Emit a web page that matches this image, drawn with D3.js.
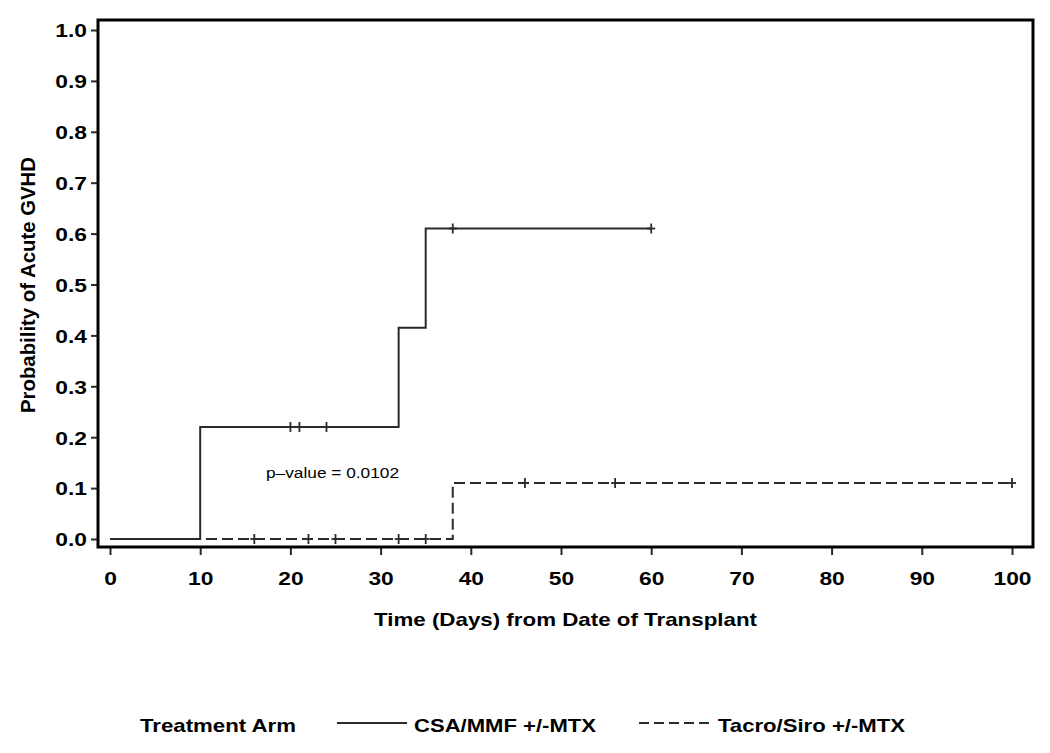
<!DOCTYPE html>
<html>
<head>
<meta charset="utf-8">
<script src="https://cdn.jsdelivr.net/npm/d3@7"></script>
<style>
  html, body { margin: 0; padding: 0; background: #fff; }
  svg { display: block; }
  text { font-family: "Liberation Sans", Arial, Helvetica, sans-serif; }
</style>
</head>
<body>
<svg id="chart" width="1050" height="753"></svg>
<script>
// ---- data ----
const xTicks = [0, 10, 20, 30, 40, 50, 60, 70, 80, 90, 100];
const yTicks = [0.0, 0.1, 0.2, 0.3, 0.4, 0.5, 0.6, 0.7, 0.8, 0.9, 1.0];
const seriesNames = ["CSA/MMF +/-MTX", "Tacro/Siro +/-MTX"];
const csaTimes = [0, 10, 32, 35, 60];
const csaProb = [0, 0.22, 0.415, 0.61, 0.61];
const csaCensor = [20, 21, 24, 38, 60];
const tacroTimes = [0, 38, 100];
const tacroProb = [0, 0.11, 0.11];
const tacroCensor = [16, 22, 25, 32, 35, 46, 56, 100];
const pValueLabel = "p\u2013value = 0.0102";
const xTitle = "Time (Days) from Date of Transplant";
const yTitle = "Probability of Acute GVHD";
const legendTitle = "Treatment Arm";

// ---- layout ----
const svg = d3.select("#chart");
svg.append("rect").attr("width", 1050).attr("height", 753).attr("fill", "#fff");
const frame = {left: 98, right: 1033, top: 20, bottom: 547};
const x = d3.scaleLinear().domain([0, 100]).range([110, 1012]);
const y = d3.scaleLinear().domain([0, 1]).range([539, 30]);
const lineColor = "#2a2a2a";

function stretch(sel, factor) {
  sel.each(function() {
    const len = this.getComputedTextLength();
    d3.select(this).attr("textLength", len * factor).attr("lengthAdjust", "spacingAndGlyphs");
  });
}
function fitWidth(sel, w) {
  sel.attr("textLength", w).attr("lengthAdjust", "spacingAndGlyphs");
}

// axes
const yAxis = svg.append("g").attr("transform", `translate(${frame.left},0)`)
  .call(d3.axisLeft(y).tickValues(yTicks).tickFormat(d3.format(".1f")).tickSize(7).tickPadding(4));
yAxis.select(".domain").remove();
yAxis.selectAll(".tick line").attr("stroke", lineColor).attr("stroke-width", 2);
yAxis.selectAll(".tick text").attr("font-size", 19).attr("font-weight", "bold").attr("fill", "#000")
  .attr("dy", "0.36em").call(stretch, 1.2);

const xAxis = svg.append("g").attr("transform", `translate(0,${frame.bottom})`)
  .call(d3.axisBottom(x).tickValues(xTicks).tickFormat(d3.format("d")).tickSize(8).tickPadding(17));
xAxis.select(".domain").remove();
xAxis.selectAll(".tick line").attr("stroke", lineColor).attr("stroke-width", 2);
xAxis.selectAll(".tick text").attr("font-size", 19).attr("font-weight", "bold").attr("fill", "#000")
  .call(stretch, 1.2);

// frame
svg.append("rect")
  .attr("x", frame.left).attr("y", frame.top)
  .attr("width", frame.right - frame.left).attr("height", frame.bottom - frame.top)
  .attr("fill", "none").attr("stroke", "#000").attr("stroke-width", 3);

// curves
const line = d3.line().x(d => x(d[0])).y(d => y(d[1])).curve(d3.curveStepAfter);
const tacroPts = tacroTimes.map((t, i) => [t, tacroProb[i]]);
const csaPts = csaTimes.map((t, i) => [t, csaProb[i]]);

function stepVal(times, probs, t) {
  let v = probs[0];
  for (let i = 0; i < times.length; i++) if (times[i] <= t) v = probs[i];
  return v;
}
function drawCensor(times, probs, cens) {
  const g = svg.append("g").attr("stroke", lineColor).attr("stroke-width", 1.8);
  cens.forEach(t => {
    const cx = x(t), cy = y(stepVal(times, probs, t));
    g.append("line").attr("x1", cx).attr("x2", cx).attr("y1", cy - 5).attr("y2", cy + 5);
    g.append("line").attr("x1", cx - 4).attr("x2", cx + 4).attr("y1", cy).attr("y2", cy);
  });
}

svg.append("path").datum(tacroPts).attr("d", line)
  .attr("fill", "none").attr("stroke", lineColor).attr("stroke-width", 2).attr("stroke-dasharray", "11,5");
drawCensor(tacroTimes, tacroProb, tacroCensor);
svg.append("path").datum(csaPts).attr("d", line)
  .attr("fill", "none").attr("stroke", lineColor).attr("stroke-width", 2);
drawCensor(csaTimes, csaProb, csaCensor);

// p-value
svg.append("text").attr("x", 266).attr("y", 478).attr("font-size", 15.5).attr("fill", "#000")
  .text(pValueLabel).call(fitWidth, 133);

// axis titles
svg.append("text").attr("x", 374).attr("y", 626).attr("font-size", 19).attr("font-weight", "bold")
  .text(xTitle).call(fitWidth, 383);
svg.append("text").attr("transform", "translate(35,285) rotate(-90)").attr("text-anchor", "middle")
  .attr("font-size", 20).attr("font-weight", "bold").text(yTitle).call(fitWidth, 256);

// legend
svg.append("text").attr("x", 140).attr("y", 732).attr("font-size", 19).attr("font-weight", "bold")
  .text(legendTitle).call(fitWidth, 156);
svg.append("line").attr("x1", 337).attr("x2", 407).attr("y1", 723).attr("y2", 723)
  .attr("stroke", lineColor).attr("stroke-width", 2);
svg.append("text").attr("x", 414).attr("y", 732).attr("font-size", 19).attr("font-weight", "bold")
  .text(seriesNames[0]).call(fitWidth, 182);
svg.append("line").attr("x1", 639).attr("x2", 710).attr("y1", 723).attr("y2", 723)
  .attr("stroke", lineColor).attr("stroke-width", 2).attr("stroke-dasharray", "10,5");
svg.append("text").attr("x", 718).attr("y", 732).attr("font-size", 19).attr("font-weight", "bold")
  .text(seriesNames[1]).call(fitWidth, 187);
</script>
</body>
</html>
